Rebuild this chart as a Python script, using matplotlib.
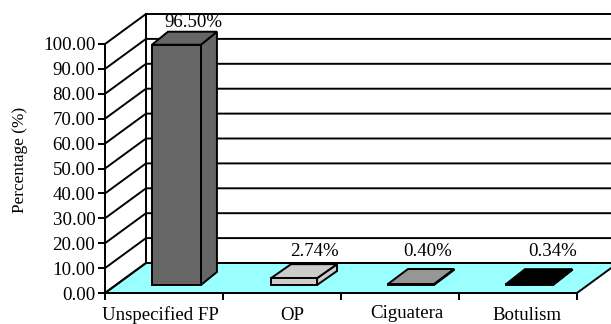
import matplotlib
matplotlib.use("Agg")
import matplotlib.pyplot as plt
from matplotlib.patches import Polygon

categories = ["Unspecified FP", "OP", "Ciguatera", "Botulism"]
values = [96.50, 2.74, 0.40, 0.34]
labels = ["96.50%", "2.74%", "0.40%", "0.34%"]
colors = ["#666666", "#CCCCCC", "#969696", "#000000"]
yticks = [0, 10, 20, 30, 40, 50, 60, 70, 80, 90, 100]

W, H = 611, 324
plt.rcParams["font.family"] = "Liberation Serif"
FS = 13.6
LW = 1.4

fig = plt.figure(figsize=(W / 100, H / 100), dpi=100)
ax = fig.add_axes([105 / W, (H - 293) / H, (577 - 105) / W, (293 - 44) / H])
ax.set_xlim(0, 4)
ax.set_ylim(0, 100)

PX = 4 / 472          # category units per pixel
PY = 100 / 249        # percent units per pixel
DX, DY = 41 * PX, 30 * PY   # depth of the 3-D box

# floor
ax.add_patch(Polygon([(0, 0), (4, 0), (4 + DX, DY), (DX, DY)], closed=True,
                     fc="#99FFFF", ec="black", lw=LW, zorder=1, clip_on=False))
# back wall and side wall grid
ax.plot([DX, DX], [DY, 100 + DY], color="black", lw=LW, zorder=1.5, clip_on=False)
for t in yticks:
    ax.plot([0, DX, 4 + DX], [t, t + DY, t + DY], color="black", lw=LW,
            zorder=1.5, clip_on=False, solid_joinstyle="miter")

# bars
bar_left = [0.398, 0.407, 0.398, 0.398]
bar_w = [0.415, 0.39, 0.39, 0.40]
bar_dx = [16, 20, 20, 19]
bar_dy = [13, 14, 15, 15]
BASE = 8 * PY
for i, (v, c) in enumerate(zip(values, colors)):
    x0 = i + bar_left[i]
    x1 = x0 + bar_w[i]
    y0 = BASE
    y1 = BASE + v
    dx, dy = bar_dx[i] * PX, bar_dy[i] * PY
    kw = dict(closed=True, fc=c, ec="black", lw=LW, zorder=3 + i / 10,
              clip_on=False, joinstyle="miter")
    ax.add_patch(Polygon([(x1, y0), (x1 + dx, y0 + dy), (x1 + dx, y1 + dy), (x1, y1)], **kw))
    ax.add_patch(Polygon([(x0, y1), (x1, y1), (x1 + dx, y1 + dy), (x0 + dx, y1 + dy)], **kw))
    ax.add_patch(Polygon([(x0, y0), (x1, y0), (x1, y1), (x0, y1)], **kw))

# value labels
label_dx = [29, 32, 28, 35]
label_dy = [12.0, 14.0, 16.3, 16.4]
for i, (v, s) in enumerate(zip(values, labels)):
    ax.text(i + 0.5 + label_dx[i] * PX, v + label_dy[i], s, ha="center", va="center",
            fontsize=FS, zorder=5, clip_on=False)

# axes
ax.patch.set_visible(False)
for sp in ["top", "right"]:
    ax.spines[sp].set_visible(False)
for sp in ["left", "bottom"]:
    ax.spines[sp].set_linewidth(LW)
    ax.spines[sp].set_zorder(2)
ax.set_yticks(yticks)
ax.set_yticklabels([f"{t:.2f}" for t in yticks], fontsize=FS)
ax.set_xticks(range(5))
ax.set_xticklabels([])
ax.tick_params(axis="both", length=5, width=LW, pad=2)
ax.set_ylabel("Percentage (%)", fontsize=12.4)
ax.yaxis.set_label_coords((28 - 105) / 472, (293 - 160) / 249)

# category labels
cat_dx = [-4, 10, 7, 9]
cat_base = [319.5, 319.5, 318, 319.5]
for i, s in enumerate(categories):
    ax.text(i + 0.5 + cat_dx[i] * PX, (293 - cat_base[i]) * PY, s, ha="center",
            va="baseline", fontsize=FS, clip_on=False)

fig.savefig("out.png", dpi=100)
